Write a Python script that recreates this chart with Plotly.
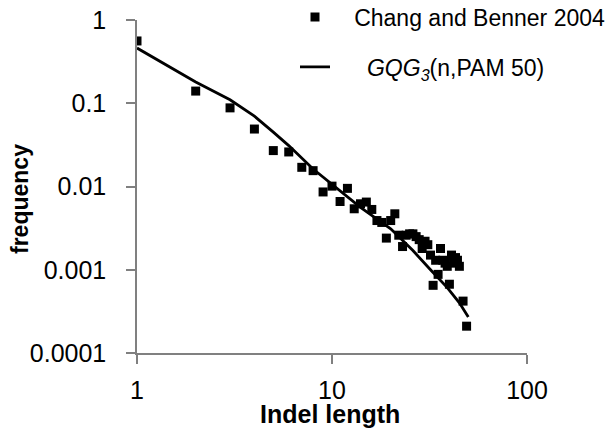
import plotly.graph_objects as go

# Observed data (Chang and Benner 2004)
obs_length = [1, 2, 3, 4, 5, 6, 7, 8, 9, 10, 11, 12, 13, 14, 15, 16, 17, 18, 19, 20,
              21, 22, 23, 24, 25, 26, 27, 28, 29, 30, 31, 32, 33, 34, 35, 36, 37, 38,
              39, 40, 41, 42, 43, 44, 45, 47, 49]
obs_freq = [0.56, 0.14, 0.088, 0.049, 0.027, 0.026, 0.017, 0.0155, 0.0086, 0.0101,
            0.0066, 0.0095, 0.0054, 0.0062, 0.0065, 0.0053, 0.0039, 0.0037, 0.0024, 0.0039,
            0.0047, 0.0026, 0.0019, 0.0026, 0.0027, 0.0027, 0.0025, 0.0023, 0.0018, 0.0022,
            0.0020, 0.0015, 0.00065, 0.0013, 0.00088, 0.0018, 0.0013, 0.0012,
            0.0011, 0.00067, 0.0015, 0.0012, 0.0014, 0.0013, 0.0011, 0.00042, 0.00021]

# Model curve GQG3(n, PAM 50)
model_length = [1, 2, 3, 4, 5, 6, 8, 10, 14, 20, 26, 32, 39, 45, 50]
model_freq = [0.46, 0.18, 0.11, 0.07, 0.045, 0.031, 0.0162, 0.0105, 0.0056, 0.0031,
              0.0017, 0.0010, 0.00061, 0.00040, 0.00027]

x_ticks = [1, 10, 100]
x_tick_text = ["1", "10", "100"]
y_ticks = [0.0001, 0.001, 0.01, 0.1, 1]
y_tick_text = ["0.0001", "0.001", "0.01", "0.1", "1"]

FONT = "Liberation Sans, Arial, sans-serif"
AXIS_GRAY = "#808080"
OFF = 8  # page body margin
W, H = 613 - OFF, 430 - OFF
L, R, T, B = 137 - OFF, 86, 20 - OFF, 77

fig = go.Figure()
fig.add_trace(go.Scatter(
    x=obs_length, y=obs_freq, mode="markers",
    name="&nbsp;&nbsp;&nbsp;Chang and Benner 2004",
    marker=dict(symbol="square", size=9, color="black"),
    legend="legend",
))
fig.add_trace(go.Scatter(
    x=model_length, y=model_freq, mode="lines",
    name="&nbsp;&nbsp;&nbsp;&nbsp;&nbsp;<i>GQG</i><sub><i>3</i></sub>(n,PAM 50)",
    line=dict(color="black", width=2.8),
    legend="legend2",
))

legend_common = dict(
    xref="container", yref="container", xanchor="left", yanchor="middle",
    bgcolor="rgba(0,0,0,0)", borderwidth=0,
    font=dict(size=23, family=FONT, color="black"),
)

fig.update_layout(
    width=W, height=H,
    paper_bgcolor="white", plot_bgcolor="white",
    margin=dict(l=L, r=R, t=T, b=B, autoexpand=False),
    font=dict(family=FONT, color="black"),
    showlegend=True,
    legend=dict(x=(295 - OFF) / W, y=1 - (17 - OFF) / H, **legend_common),
    legend2=dict(x=(295 - OFF) / W, y=1 - (67 - OFF) / H, **legend_common),
    xaxis=dict(
        type="log", range=[0, 2], automargin=False,
        tickvals=x_ticks, ticktext=x_tick_text,
        ticks="outside", ticklen=9, tickcolor=AXIS_GRAY, tickwidth=1.5,
        showline=True, linecolor=AXIS_GRAY, linewidth=1.5,
        showgrid=False, zeroline=False,
        tickfont=dict(size=25, family=FONT),
        ticklabelstandoff=5, ticklabeloverflow="allow",
    ),
    yaxis=dict(
        type="log", range=[-4, 0], automargin=False,
        tickvals=y_ticks, ticktext=y_tick_text,
        ticks="outside", ticklen=9, tickcolor=AXIS_GRAY, tickwidth=1.5,
        showline=True, linecolor=AXIS_GRAY, linewidth=1.5,
        showgrid=False, zeroline=False,
        tickfont=dict(size=25, family=FONT),
        ticklabelstandoff=15, ticklabeloverflow="allow",
    ),
    annotations=[
        dict(text="<b>Indel length</b>", xref="paper", yref="paper",
             x=(330 - 137) / (W - L - R), y=-(414 - 353) / (H - T - B),
             xanchor="center", yanchor="middle", showarrow=False,
             font=dict(size=25, family=FONT, color="black")),
        dict(text="<b>frequency</b>", xref="paper", yref="paper",
             x=-(137 - 20) / (W - L - R), y=(353 - 199) / (H - T - B),
             xanchor="center", yanchor="middle", showarrow=False, textangle=-90,
             font=dict(size=23, family=FONT, color="black")),
    ],
)

fig.write_html("out.html")
